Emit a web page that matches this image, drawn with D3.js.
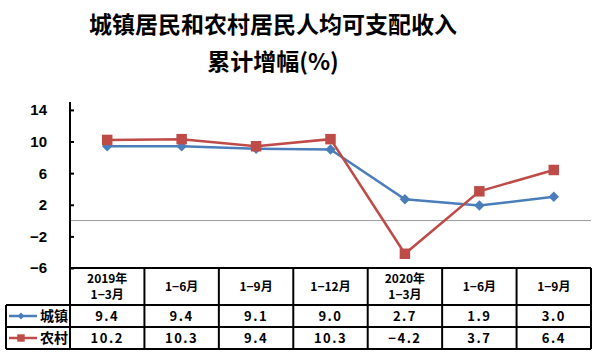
<!DOCTYPE html>
<html><head><meta charset="utf-8">
<script src="https://cdn.jsdelivr.net/npm/d3@7"></script>
<style>
body{margin:0;background:#fff;}
svg{display:block;}
text{font-family:"Noto Sans CJK SC","Liberation Sans",sans-serif;font-weight:bold;fill:#000;}
</style></head>
<body><svg id="c" width="598" height="359"></svg>
<script>
const categories = [["2019年","1−3月"],["1−6月"],["1−9月"],["1−12月"],["2020年","1−3月"],["1−6月"],["1−9月"]];
const seriesNames = ["城镇","农村"];
const urban = [9.4, 9.4, 9.1, 9.0, 2.7, 1.9, 3.0];
const rural = [10.2, 10.3, 9.4, 10.3, -4.2, 3.7, 6.4];
const yTicks = [-6, -2, 2, 6, 10, 14];
const titleLines = ["城镇居民和农村居民人均可支配收入","累计增幅(%)"];

const svg = d3.select("#c");
const colors = ["#4A7EBB","#BE4B48"];
const left = 70, right = 591, plotTop = 102, plotBottom = 268;
const x = d3.scaleBand().domain(d3.range(categories.length)).range([left, right]);
const y = d3.scaleLinear().domain([-6, 15]).range([plotBottom, plotTop]);

// title
svg.selectAll("text.title").data(titleLines).join("text")
  .attr("x", 273).attr("y", (d,i)=>25 + i*37).attr("dy","0.36em")
  .attr("text-anchor","middle").style("font-size","23px").text(d=>d);

// zero line
svg.append("line").attr("x1", left).attr("x2", right).attr("y1", y(0)).attr("y2", y(0))
  .attr("stroke","#9a9a9a").attr("stroke-width",1);

// y axis
const yAxis = d3.axisRight(y).tickValues(yTicks).tickSize(4).tickFormat("");
const ga = svg.append("g").attr("transform",`translate(${left},0)`).call(yAxis);
ga.select(".domain").attr("stroke","#000").attr("stroke-width",2).attr("d",`M0,${plotTop}V${plotBottom}`);
ga.selectAll(".tick line").attr("stroke","#000").attr("stroke-width",2);
svg.selectAll("text.ytl").data(yTicks).join("text").attr("class","ytl")
  .attr("x", 47).attr("y", d=>y(d)).attr("dy","0.36em").attr("text-anchor","end")
  .style("font-family","Liberation Sans, Arial, sans-serif").style("font-size","15px")
  .text(d=> d<0 ? "−"+Math.abs(d) : d);

// lines
const data = [urban, rural];
const line = d3.line().x((d,i)=>x(i)+x.bandwidth()/2).y(d=>y(d));
data.forEach((s,k)=>{
  svg.append("path").datum(s).attr("d",line).attr("fill","none")
    .attr("stroke",colors[k]).attr("stroke-width",2.5);
});
const diamond = d3.symbol().type(d3.symbolDiamond2).size(70);
const square = d3.symbol().type(d3.symbolSquare).size(110);
svg.selectAll("path.mu").data(urban).join("path").attr("class","mu")
  .attr("transform",(d,i)=>`translate(${x(i)+x.bandwidth()/2},${y(d)})`)
  .attr("d",diamond).attr("fill",colors[0]);
svg.selectAll("path.mr").data(rural).join("path").attr("class","mr")
  .attr("transform",(d,i)=>`translate(${x(i)+x.bandwidth()/2},${y(d)})`)
  .attr("d",square).attr("fill",colors[1]);

// table
const rowY = [268, 305, 327, 349];
const tableLeft = 6;
const tg = svg.append("g");
// horizontal lines
tg.append("line").attr("x1",left).attr("x2",right).attr("y1",rowY[0]).attr("y2",rowY[0]);
for (let r=1;r<4;r++) tg.append("line").attr("x1",tableLeft).attr("x2",right).attr("y1",rowY[r]).attr("y2",rowY[r]);
// vertical lines
tg.append("line").attr("x1",tableLeft).attr("x2",tableLeft).attr("y1",rowY[1]).attr("y2",rowY[3]);
d3.range(categories.length+1).forEach(i=>{
  const xx = i<categories.length ? x(i) : right;
  tg.append("line").attr("x1",xx).attr("x2",xx).attr("y1",rowY[0]).attr("y2",rowY[3]);
});
tg.selectAll("line").attr("stroke","#000").attr("stroke-width",2);

// header text
categories.forEach((c,i)=>{
  const cx = x(i)+x.bandwidth()/2;
  const cy = (rowY[0]+rowY[1])/2;
  c.forEach((t,j)=>{
    svg.append("text").attr("x",cx).attr("y", cy + (j-(c.length-1)/2)*16).attr("dy","0.36em")
      .attr("text-anchor","middle").style("font-size","12px").text(t);
  });
});
// values
const fmt = d3.format(".1f");
data.forEach((s,k)=>{
  const cy = (rowY[k+1]+rowY[k+2])/2;
  svg.selectAll(null).data(s).join("text")
    .attr("x",(d,i)=>x(i)+x.bandwidth()/2).attr("y",cy).attr("dy","0.36em")
    .attr("text-anchor","middle").style("font-size","13px").style("letter-spacing","1.5px")
    .text(d=> d<0 ? "−"+fmt(-d) : fmt(d));
  // legend
  svg.append("line").attr("x1",9).attr("x2",37).attr("y1",cy).attr("y2",cy)
    .attr("stroke",colors[k]).attr("stroke-width",2.5);
  svg.append("path").attr("transform",`translate(21,${cy})`)
    .attr("d", k===0 ? d3.symbol().type(d3.symbolDiamond2).size(30)() : d3.symbol().type(d3.symbolSquare).size(55)())
    .attr("fill",colors[k]);
  svg.append("text").attr("x",40).attr("y",cy).attr("dy","0.36em")
    .style("font-size","14px").text(seriesNames[k]);
});
</script></body></html>
